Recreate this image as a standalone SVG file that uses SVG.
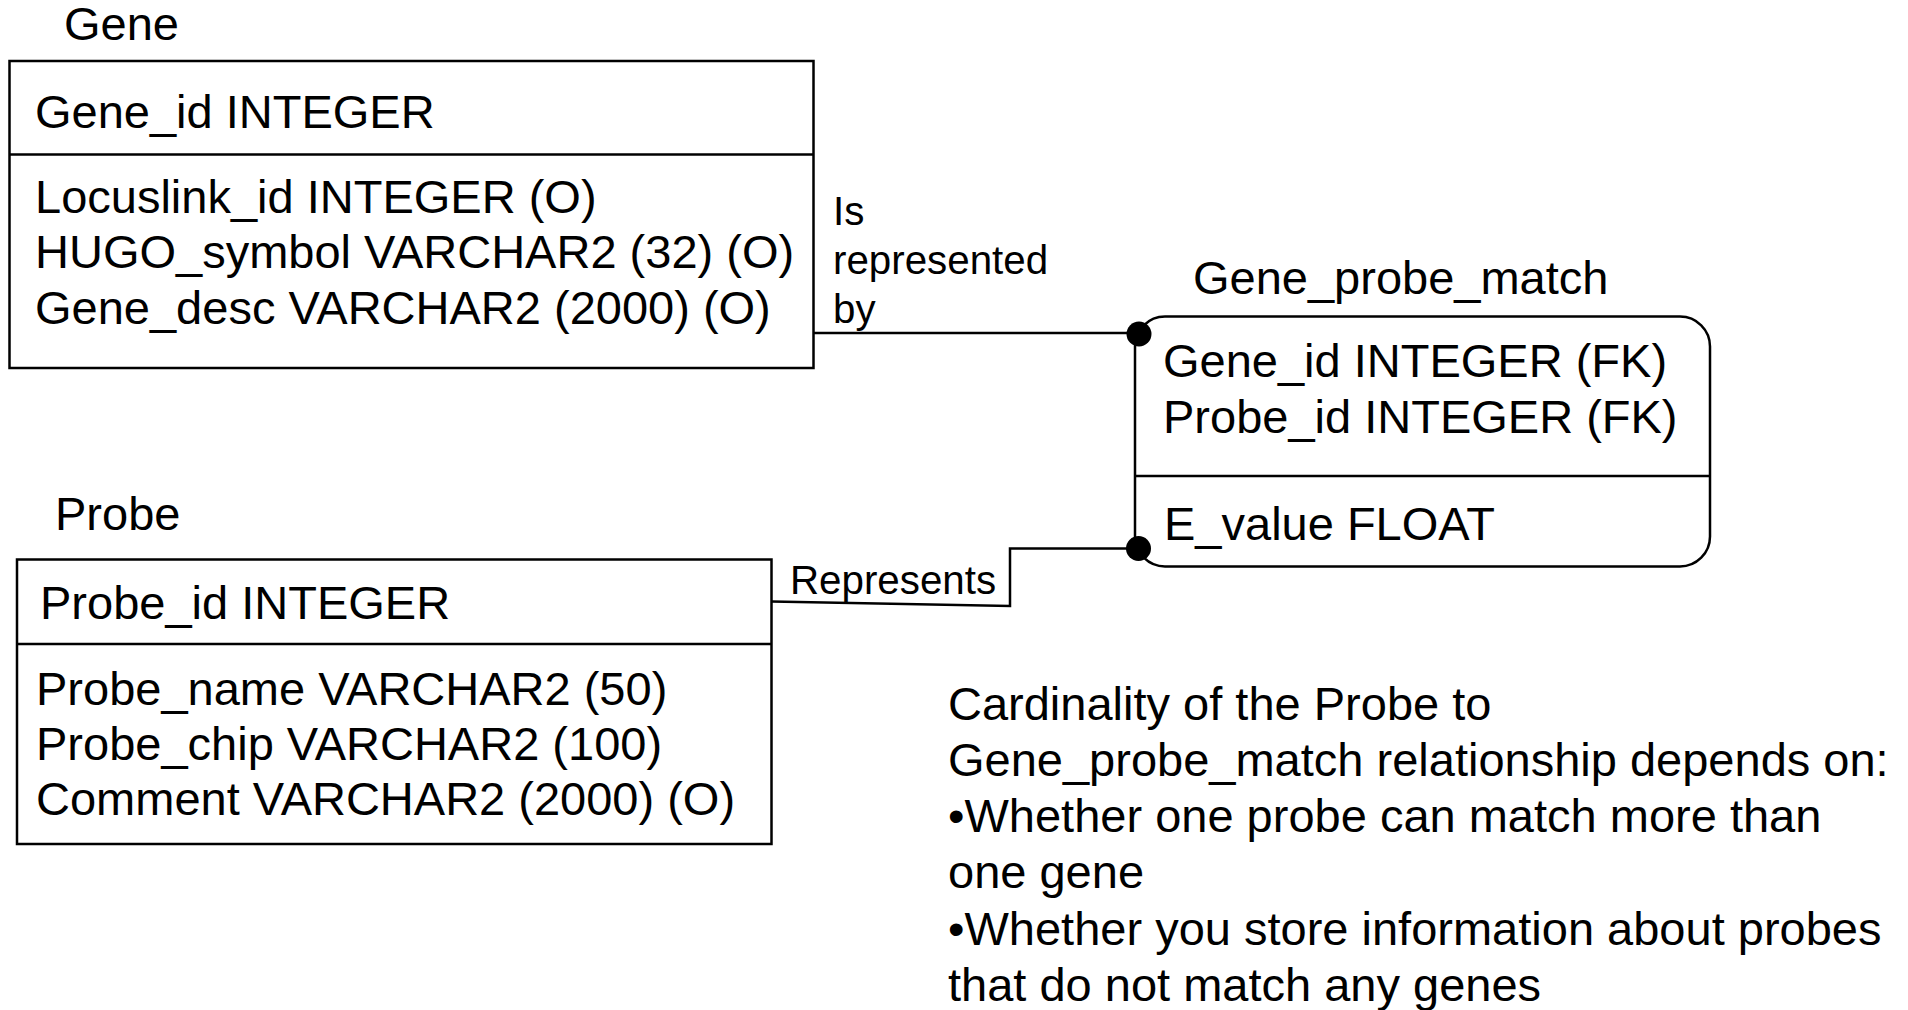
<svg xmlns="http://www.w3.org/2000/svg" width="1908" height="1010" viewBox="0 0 1908 1010">
<style>
  text { font-family: "Liberation Sans", Arial, sans-serif; fill: #000; }
  .t { font-size: 47px; }
  .lbl { font-size: 40.3px; }
  .box { fill: #fff; stroke: #000; stroke-width: 2.5; }
  .ln { fill: none; stroke: #000; stroke-width: 2.5; }
  .dot { fill: #000; }
</style>
<rect width="1908" height="1010" fill="#fff"/>

<g id="gene">
  <text class="t" x="64" y="40">Gene</text>
  <rect class="box" x="9.5" y="61" width="804" height="307"/>
  <line class="ln" x1="9.5" y1="154.5" x2="813.5" y2="154.5"/>
  <text class="t" x="35" y="127.5">Gene_id INTEGER</text>
  <text class="t" x="35" y="212.5">Locuslink_id INTEGER (O)</text>
  <text class="t" x="35" y="268">HUGO_symbol VARCHAR2 (32) (O)</text>
  <text class="t" x="35" y="324">Gene_desc VARCHAR2 (2000) (O)</text>
</g>

<g id="gene_probe_match">
  <text class="t" x="1193" y="293.5">Gene_probe_match</text>
  <rect class="box" x="1135" y="316.5" width="575" height="250" rx="30" ry="30"/>
  <line class="ln" x1="1135" y1="476" x2="1710" y2="476"/>
  <text class="t" x="1163" y="377">Gene_id INTEGER (FK)</text>
  <text class="t" x="1163" y="433">Probe_id INTEGER (FK)</text>
  <text class="t" x="1164" y="540">E_value FLOAT</text>
</g>

<g id="probe">
  <text class="t" x="55" y="529.5">Probe</text>
  <rect class="box" x="17" y="559.5" width="754.5" height="284.5"/>
  <line class="ln" x1="17" y1="644" x2="771.5" y2="644"/>
  <text class="t" x="40" y="618.5">Probe_id INTEGER</text>
  <text class="t" x="36" y="705">Probe_name VARCHAR2 (50)</text>
  <text class="t" x="36" y="760">Probe_chip VARCHAR2 (100)</text>
  <text class="t" x="36" y="815">Comment VARCHAR2 (2000) (O)</text>
</g>

<g id="connectors">
  <g id="is_represented_by">
    <line class="ln" x1="813.5" y1="333" x2="1139" y2="333"/>
    <circle class="dot" cx="1139" cy="334" r="12.5"/>
    <text class="lbl" x="833" y="225">Is</text>
    <text class="lbl" x="833" y="274">represented</text>
    <text class="lbl" x="833" y="323">by</text>
  </g>
  <g id="represents">
    <polyline class="ln" points="771.5,601.5 1010,606 1010,548.5 1138,548.5"/>
    <circle class="dot" cx="1138.5" cy="548.5" r="12.5"/>
    <text class="lbl" x="790" y="593.5">Represents</text>
  </g>
</g>

<g id="note">
  <text class="t" x="948" y="720">Cardinality of the Probe to</text>
  <text class="t" x="948" y="776">Gene_probe_match relationship depends on:</text>
  <text class="t" x="948" y="832">•Whether one probe can match more than</text>
  <text class="t" x="948" y="888">one gene</text>
  <text class="t" x="948" y="945">•Whether you store information about probes</text>
  <text class="t" x="948" y="1001">that do not match any genes</text>
</g>
</svg>
